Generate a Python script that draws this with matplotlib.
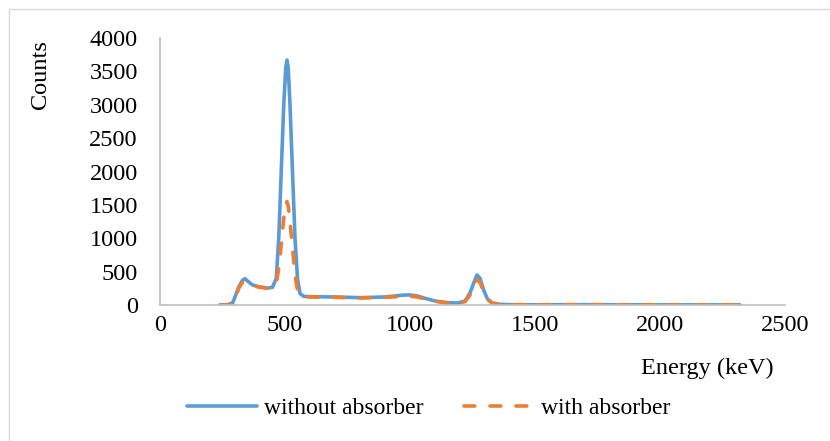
import matplotlib
matplotlib.use("Agg")
import matplotlib.pyplot as plt
from matplotlib.patches import Rectangle

energy = [240, 270, 290, 300, 315, 330, 340, 350, 370, 400, 430, 450, 465, 475, 485,
          495, 503, 508, 513, 520, 530, 540, 550, 560, 575, 600, 700, 800, 900, 950,
          980, 1000, 1030, 1060, 1100, 1150, 1190, 1220, 1240, 1255, 1268, 1280, 1295,
          1310, 1330, 1360, 1400, 1500, 1700, 1900, 2100, 2320]
without_absorber = [0, 5, 30, 120, 270, 370, 395, 360, 300, 270, 255, 265, 400, 1000, 2000,
                    3000, 3550, 3670, 3550, 3000, 2000, 1000, 400, 170, 130, 125, 120, 110, 120, 140,
                    150, 150, 135, 100, 60, 35, 30, 60, 180, 330, 450, 400, 220,
                    90, 30, 10, 5, 3, 5, 3, 2, 2]
with_absorber = [0, 0, 10, 90, 250, 340, 350, 330, 290, 265, 250, 255, 320, 550, 900,
                 1300, 1500, 1550, 1480, 1250, 850, 450, 220, 140, 125, 120, 115, 105, 115, 125,
                 130, 130, 120, 90, 55, 30, 25, 50, 150, 280, 380, 340, 190,
                 80, 25, 8, 4, 3, 4, 3, 2, 2]
x_ticks = [0, 500, 1000, 1500, 2000, 2500]
y_ticks = [0, 500, 1000, 1500, 2000, 2500, 3000, 3500, 4000]

plt.rcParams['font.family'] = ['Liberation Serif', 'DejaVu Serif']
FS = 17.5

fig = plt.figure(figsize=(8.3, 4.41), dpi=100)
fig.patches.append(Rectangle((9/830, -0.1), 1.2, 1 - 9/441 + 0.1, transform=fig.transFigure,
                             fill=False, edgecolor='#D9D9D9', linewidth=1))
ax = fig.add_axes([160/830, 1 - 305/441, 625/830, (305 - 38)/441])

blue = '#5B9BD5'
orange = '#ED7D31'
ax.plot(energy, without_absorber, color=blue, linewidth=2.6, label='without absorber',
        solid_joinstyle='round', solid_capstyle='round')
ax.plot(energy, with_absorber, color=orange, linewidth=2.6, linestyle=(0, (3.0, 4.2)),
        label='with absorber', dash_capstyle='round')

ax.set_xlim(0, 2500)
ax.set_ylim(0, 4000)
ax.set_xticks(x_ticks)
ax.set_yticks(y_ticks)
ax.tick_params(length=0, labelsize=FS)
ax.tick_params(axis='x', pad=7)
ax.tick_params(axis='y', pad=16)
for s in ['top', 'right']:
    ax.spines[s].set_visible(False)
for s in ['left', 'bottom']:
    ax.spines[s].set_color('#BFBFBF')
    ax.spines[s].set_linewidth(1.2)

fig.text(707/830, 1 - 368/441, 'Energy (keV)', ha='center', va='center', fontsize=FS)
fig.text(40/830, 1 - 75/441, 'Counts', ha='center', va='center', fontsize=FS, rotation=90)

leg = fig.legend(loc='center', bbox_to_anchor=(429/830, 1 - 408/441), ncol=2, frameon=False,
                 fontsize=17, handlelength=2.97, columnspacing=1.7, handletextpad=0.3)

fig.savefig('out.png', dpi=100)
